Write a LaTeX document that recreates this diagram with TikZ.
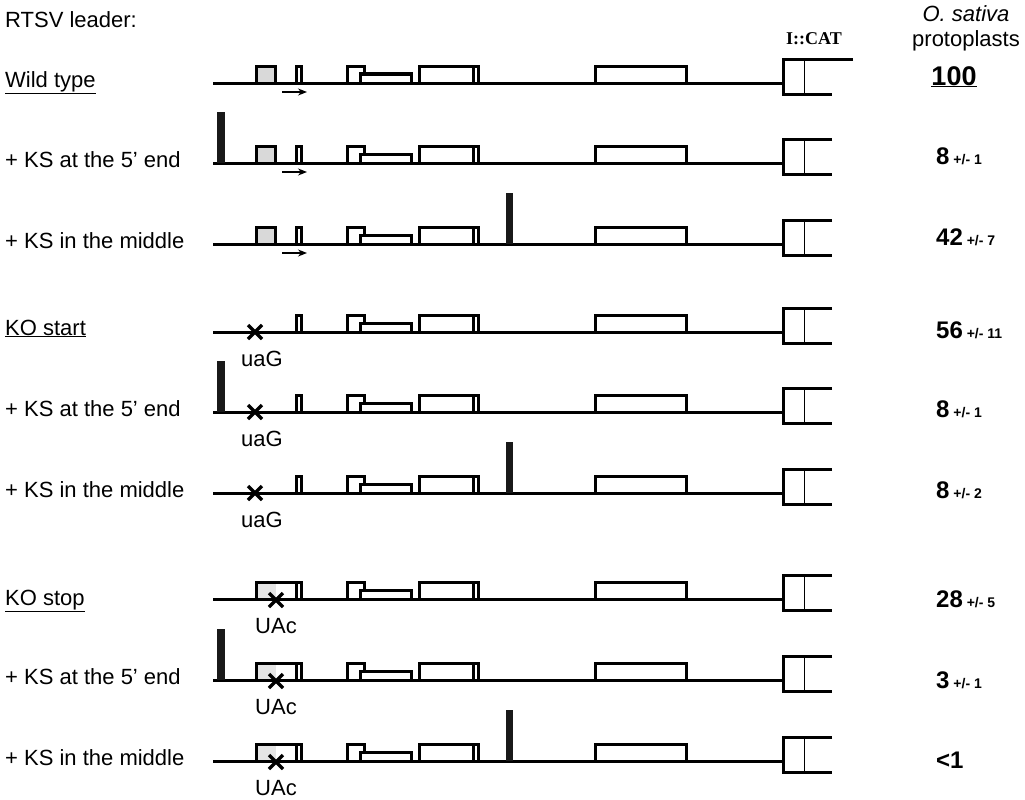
\documentclass[tikz,border=0pt]{standalone}
\usepackage{fontspec}
\setmainfont{Liberation Sans}
\newfontfamily\catfont{Liberation Serif}
\usepackage{tikz}
\usetikzlibrary{arrows.meta}

\newcommand{\err}[1]{{\fontsize{14}{14}\selectfont\ #1}}

\begin{document}
\begin{tikzpicture}[x=1pt,y=-1pt,>={Stealth[length=9pt,width=7pt]},
	backbone/.style={line width=3pt},
	exon/.style={draw,line width=3pt,fill=white},
	uorf/.style={draw,line width=3pt,fill=black!15},
	ksbar/.style={fill=black!90},
	cross/.style={line width=3.5pt},
	lbl/.style={anchor=base west,inner sep=0pt,font=\fontsize{22}{22}\selectfont},
	codon/.style={anchor=base,inner sep=0pt,font=\fontsize{22}{22}\selectfont},
	val/.style={anchor=base west,inner sep=0pt,font=\bfseries\fontsize{24}{24}\selectfont}]
	\useasboundingbox (0,0) rectangle (1025,800);
	% headings
	\node[lbl](leader) at (5,28) {RTSV leader:};
	\node[anchor=base,inner sep=0pt,font=\catfont\bfseries\fontsize{18}{18}\selectfont](cat) at (814,45) {I::CAT};
	\node[codon](host) at (966,22) {\itshape O. sativa};
	\node[codon](proto) at (966,47) {protoplasts};

	% constructs
	\foreach \y/\e in {83/853,163/832,244/832,332/832,412/832,493/832,599/832,680/832,761/832}{
		\draw[backbone] (213,\y) -- (783.5,\y);
		\draw[backbone] (\e,\y-23.5) -- (783.5,\y-23.5) -- (783.5,\y+11.5) -- (832,\y+11.5);
		\draw[line width=1pt] (804,\y-23.5) -- (804,\y+11.5);
		\draw[exon] (296.5,\y-16.5) rectangle (301.5,\y);
		\draw[exon] (347.5,\y-16.5) rectangle (364.5,\y);
		\draw[exon] (360.5,\y-9) rectangle (411.5,\y);
		\draw[exon] (419.5,\y-16.5) rectangle (478.5,\y);
		\draw[backbone] (473,\y-16.5) -- (473,\y);
		\draw[exon] (595.5,\y-16.5) rectangle (686.5,\y);
	}
	\foreach \y in {83,163,244}{
		\draw[uorf] (256.5,\y-16.5) rectangle (275.5,\y);
		\draw[->,line width=1.3pt] (282,\y+9) -- (307,\y+9);
	}
	\foreach \y in {332,412,493}{
		\draw[cross] (248,\y-7) -- (262,\y+7) (248,\y+7) -- (262,\y-7);
		\node[codon](uag\y) at (262,\y+34) {uaG};
	}
	\foreach \y in {599,680,761}{
		\fill[black!10] (256.5,\y-16.5) rectangle (275.5,\y);
		\draw[backbone] (256.5,\y-16.5) rectangle (301.5,\y);
		\draw[cross] (269,\y-6) -- (283,\y+8) (269,\y+8) -- (283,\y-6);
		\node[codon](uac\y) at (276,\y+34) {UAc};
	}
	% kissing stems
	\foreach \y in {163,412,680}
		\fill[ksbar] (217,\y-51) rectangle (225,\y);
	\foreach \y in {244,493,761}
		\fill[ksbar] (506,\y-51) rectangle (513,\y);

	% row labels
	\node[lbl](wt) at (5,87.5) {\underline{Wild type}};
	\node[lbl](wt5) at (5,167.5) {+ KS at the 5’ end};
	\node[lbl](wtm) at (5,248) {+ KS in the middle};
	\node[lbl](kostart) at (5,335) {\underline{KO start}};
	\node[lbl](kostart5) at (5,416.5) {+ KS at the 5’ end};
	\node[lbl](kostartm) at (5,497) {+ KS in the middle};
	\node[lbl](kostop) at (5,605.5) {\underline{KO stop}};
	\node[lbl](kostop5) at (5,684.5) {+ KS at the 5’ end};
	\node[lbl](kostopm) at (5,765) {+ KS in the middle};

	% activities
	\node[anchor=base,inner sep=0pt,font=\bfseries\fontsize{27}{27}\selectfont](vwt) at (954,85) {\underline{100}};
	\node[val](vwt5) at (936,164.5) {8\err{+/- 1}};
	\node[val](vwtm) at (936,245.5) {42\err{+/- 7}};
	\node[val](vkostart) at (936,338) {56\err{+/- 11}};
	\node[val](vkostart5) at (936,417.5) {8\err{+/- 1}};
	\node[val](vkostartm) at (936,498.5) {8\err{+/- 2}};
	\node[val](vkostop) at (936,607) {28\err{+/- 5}};
	\node[val](vkostop5) at (936,688.5) {3\err{+/- 1}};
	\node[val](vkostopm) at (936,768.5) {<1};
\end{tikzpicture}
\end{document}
